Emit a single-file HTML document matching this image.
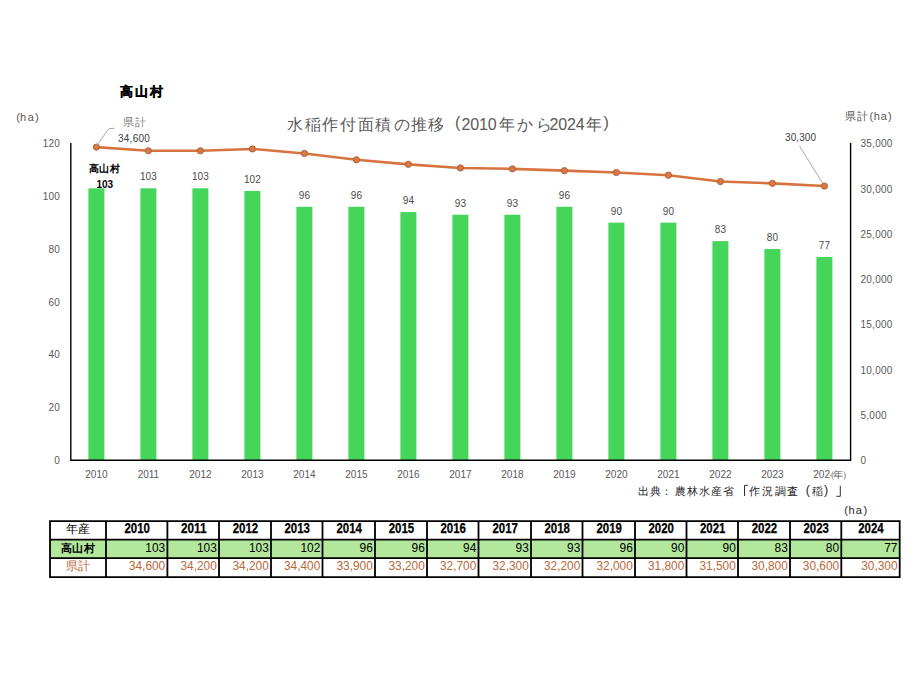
<!DOCTYPE html>
<html><head><meta charset="utf-8">
<style>
html,body{margin:0;padding:0;background:#fff;width:914px;height:686px;overflow:hidden}
svg{position:absolute;left:0;top:0;font-family:"Liberation Sans", sans-serif}
</style></head><body>
<svg width="914" height="686" viewBox="0 0 914 686">

<text x="120.2" y="95.8" font-size="13" font-weight="bold" fill="#000" stroke="#000" stroke-width="0.3" letter-spacing="1.9">高山村</text>
<text x="16.2 20.0 27.8 35.0" y="120.8" font-size="11" fill="#595959">(ha)</text>
<text y="130" font-size="16" fill="#595959"><tspan x="287.0 304.6 321.6 340.0 357.7 375.2 393.8 410.7 428.2">水稲作付面積の推移</tspan><tspan x="461.6" letter-spacing="-0.15">2010</tspan><tspan x="498.8 517.2 536.0">年から</tspan><tspan x="549.5" letter-spacing="-0.15">2024</tspan><tspan x="586.1">年</tspan></text>
<text y="128.2" font-size="16" fill="#595959"><tspan x="455">(</tspan><tspan x="603.5">)</tspan></text>
<text x="844.7 856.8 869.6 873.8 880.7 887.9" y="120" font-size="11" fill="#595959">県計(ha)</text>
<rect x="88.40" y="188.31" width="16" height="271.69" fill="#45d55b"/>
<rect x="140.40" y="188.31" width="16" height="271.69" fill="#45d55b"/>
<rect x="192.40" y="188.31" width="16" height="271.69" fill="#45d55b"/>
<rect x="244.40" y="190.95" width="16" height="269.05" fill="#45d55b"/>
<rect x="296.40" y="206.80" width="16" height="253.20" fill="#45d55b"/>
<rect x="348.40" y="206.80" width="16" height="253.20" fill="#45d55b"/>
<rect x="400.40" y="212.08" width="16" height="247.92" fill="#45d55b"/>
<rect x="452.40" y="214.72" width="16" height="245.28" fill="#45d55b"/>
<rect x="504.40" y="214.72" width="16" height="245.28" fill="#45d55b"/>
<rect x="556.40" y="206.80" width="16" height="253.20" fill="#45d55b"/>
<rect x="608.40" y="222.65" width="16" height="237.35" fill="#45d55b"/>
<rect x="660.40" y="222.65" width="16" height="237.35" fill="#45d55b"/>
<rect x="712.40" y="241.14" width="16" height="218.86" fill="#45d55b"/>
<rect x="764.40" y="249.07" width="16" height="210.93" fill="#45d55b"/>
<rect x="816.40" y="256.99" width="16" height="203.01" fill="#45d55b"/>
<path d="M70.8 143 V460.2 H850.6 V143" fill="none" stroke="#000" stroke-width="1.4"/>
<text x="60" y="464.00" font-size="10" fill="#595959" text-anchor="end" letter-spacing="0.2">0</text>
<text x="60" y="411.17" font-size="10" fill="#595959" text-anchor="end" letter-spacing="0.2">20</text>
<text x="60" y="358.33" font-size="10" fill="#595959" text-anchor="end" letter-spacing="0.2">40</text>
<text x="60" y="305.50" font-size="10" fill="#595959" text-anchor="end" letter-spacing="0.2">60</text>
<text x="60" y="252.67" font-size="10" fill="#595959" text-anchor="end" letter-spacing="0.2">80</text>
<text x="60" y="199.83" font-size="10" fill="#595959" text-anchor="end" letter-spacing="0.2">100</text>
<text x="60" y="147.00" font-size="10" fill="#595959" text-anchor="end" letter-spacing="0.2">120</text>
<text x="860.5" y="464.30" font-size="10" fill="#595959" letter-spacing="0.25">0</text>
<text x="860.5" y="419.01" font-size="10" fill="#595959" letter-spacing="0.25">5,000</text>
<text x="860.5" y="373.73" font-size="10" fill="#595959" letter-spacing="0.25">10,000</text>
<text x="860.5" y="328.44" font-size="10" fill="#595959" letter-spacing="0.25">15,000</text>
<text x="860.5" y="283.16" font-size="10" fill="#595959" letter-spacing="0.25">20,000</text>
<text x="860.5" y="237.87" font-size="10" fill="#595959" letter-spacing="0.25">25,000</text>
<text x="860.5" y="192.59" font-size="10" fill="#595959" letter-spacing="0.25">30,000</text>
<text x="860.5" y="147.30" font-size="10" fill="#595959" letter-spacing="0.25">35,000</text>
<text x="96.40" y="478" font-size="10" fill="#595959" text-anchor="middle">2010</text>
<text x="148.40" y="478" font-size="10" fill="#595959" text-anchor="middle">2011</text>
<text x="200.40" y="478" font-size="10" fill="#595959" text-anchor="middle">2012</text>
<text x="252.40" y="478" font-size="10" fill="#595959" text-anchor="middle">2013</text>
<text x="304.40" y="478" font-size="10" fill="#595959" text-anchor="middle">2014</text>
<text x="356.40" y="478" font-size="10" fill="#595959" text-anchor="middle">2015</text>
<text x="408.40" y="478" font-size="10" fill="#595959" text-anchor="middle">2016</text>
<text x="460.40" y="478" font-size="10" fill="#595959" text-anchor="middle">2017</text>
<text x="512.40" y="478" font-size="10" fill="#595959" text-anchor="middle">2018</text>
<text x="564.40" y="478" font-size="10" fill="#595959" text-anchor="middle">2019</text>
<text x="616.40" y="478" font-size="10" fill="#595959" text-anchor="middle">2020</text>
<text x="668.40" y="478" font-size="10" fill="#595959" text-anchor="middle">2021</text>
<text x="720.40" y="478" font-size="10" fill="#595959" text-anchor="middle">2022</text>
<text x="772.40" y="478" font-size="10" fill="#595959" text-anchor="middle">2023</text>
<text x="824.40" y="478" font-size="10" fill="#595959" text-anchor="middle">2024</text>
<rect x="830.8" y="465" width="18.6" height="16" fill="#fff"/>
<text y="477.8" font-size="10" fill="#595959"><tspan x="824.5">（</tspan><tspan x="833.2" font-size="9.6">年</tspan><tspan x="842.4">）</tspan></text>
<text x="148.40" y="180.31" font-size="10" fill="#4a4a4a" text-anchor="middle">103</text>
<text x="200.40" y="180.31" font-size="10" fill="#4a4a4a" text-anchor="middle">103</text>
<text x="252.40" y="182.95" font-size="10" fill="#4a4a4a" text-anchor="middle">102</text>
<text x="304.40" y="198.80" font-size="10" fill="#4a4a4a" text-anchor="middle">96</text>
<text x="356.40" y="198.80" font-size="10" fill="#4a4a4a" text-anchor="middle">96</text>
<text x="408.40" y="204.08" font-size="10" fill="#4a4a4a" text-anchor="middle">94</text>
<text x="460.40" y="206.72" font-size="10" fill="#4a4a4a" text-anchor="middle">93</text>
<text x="512.40" y="206.72" font-size="10" fill="#4a4a4a" text-anchor="middle">93</text>
<text x="564.40" y="198.80" font-size="10" fill="#4a4a4a" text-anchor="middle">96</text>
<text x="616.40" y="214.65" font-size="10" fill="#4a4a4a" text-anchor="middle">90</text>
<text x="668.40" y="214.65" font-size="10" fill="#4a4a4a" text-anchor="middle">90</text>
<text x="720.40" y="233.14" font-size="10" fill="#4a4a4a" text-anchor="middle">83</text>
<text x="772.40" y="241.07" font-size="10" fill="#4a4a4a" text-anchor="middle">80</text>
<text x="824.40" y="248.99" font-size="10" fill="#4a4a4a" text-anchor="middle">77</text>
<text x="88.6" y="172.3" font-size="10" font-weight="bold" fill="#000" letter-spacing="0.5">高山村</text>
<text x="96.5" y="187.5" font-size="10" font-weight="bold" fill="#000">103</text>
<polyline points="96.40,147.12 148.40,150.75 200.40,150.75 252.40,148.93 304.40,153.46 356.40,159.80 408.40,164.33 460.40,167.95 512.40,168.86 564.40,170.67 616.40,172.48 668.40,175.20 720.40,181.54 772.40,183.35 824.40,186.07" fill="none" stroke="#d6733f" stroke-width="2.6" stroke-linejoin="round"/>
<circle cx="96.40" cy="147.12" r="3.1" fill="#dc7843" stroke="#a85a35" stroke-width="0.9"/>
<circle cx="148.40" cy="150.75" r="3.1" fill="#dc7843" stroke="#a85a35" stroke-width="0.9"/>
<circle cx="200.40" cy="150.75" r="3.1" fill="#dc7843" stroke="#a85a35" stroke-width="0.9"/>
<circle cx="252.40" cy="148.93" r="3.1" fill="#dc7843" stroke="#a85a35" stroke-width="0.9"/>
<circle cx="304.40" cy="153.46" r="3.1" fill="#dc7843" stroke="#a85a35" stroke-width="0.9"/>
<circle cx="356.40" cy="159.80" r="3.1" fill="#dc7843" stroke="#a85a35" stroke-width="0.9"/>
<circle cx="408.40" cy="164.33" r="3.1" fill="#dc7843" stroke="#a85a35" stroke-width="0.9"/>
<circle cx="460.40" cy="167.95" r="3.1" fill="#dc7843" stroke="#a85a35" stroke-width="0.9"/>
<circle cx="512.40" cy="168.86" r="3.1" fill="#dc7843" stroke="#a85a35" stroke-width="0.9"/>
<circle cx="564.40" cy="170.67" r="3.1" fill="#dc7843" stroke="#a85a35" stroke-width="0.9"/>
<circle cx="616.40" cy="172.48" r="3.1" fill="#dc7843" stroke="#a85a35" stroke-width="0.9"/>
<circle cx="668.40" cy="175.20" r="3.1" fill="#dc7843" stroke="#a85a35" stroke-width="0.9"/>
<circle cx="720.40" cy="181.54" r="3.1" fill="#dc7843" stroke="#a85a35" stroke-width="0.9"/>
<circle cx="772.40" cy="183.35" r="3.1" fill="#dc7843" stroke="#a85a35" stroke-width="0.9"/>
<circle cx="824.40" cy="186.07" r="3.1" fill="#dc7843" stroke="#a85a35" stroke-width="0.9"/>
<path d="M96.2 146 L109 128.6 L114.7 128.3" fill="none" stroke="#a0a0a0" stroke-width="0.9"/>
<path d="M799.5 146 L822.5 183" fill="none" stroke="#a0a0a0" stroke-width="0.9"/>
<text x="123" y="126" font-size="11" fill="#7f7f7f" letter-spacing="0.8">県計</text>
<text x="118" y="142" font-size="10" fill="#404040" letter-spacing="0.25">34,600</text>
<text x="785" y="141.2" font-size="10" fill="#404040" letter-spacing="0.1">30,300</text>
<text x="637.8 649.9 661.0 674.5 686.6 698.6 710.6 722.7 748.9 762.0 775.1 786.6 812.3" y="494.6" font-size="11.3" fill="#262626">出典：農林水産省作況調査稲</text>
<text y="494.4" font-size="12.5" fill="#262626"><tspan x="805.8">(</tspan><tspan x="824.1">)</tspan></text>
<path d="M744.5 496 V485.4 H747.9 M840.3 485.8 V496.3 H836.3" fill="none" stroke="#262626" stroke-width="0.95"/>
<text x="844.3 848.4 855.8 863.6" y="514.2" font-size="11" fill="#262626">(ha)</text>
<rect x="50" y="539.7" width="849.7" height="18.5" fill="#b2e79c"/>
<path d="M50 520.2 V578.0 M106 520.2 V578.0 M167.4 520.2 V578.0 M219 520.2 V578.0 M271 520.2 V578.0 M322.5 520.2 V578.0 M375 520.2 V578.0 M427 520.2 V578.0 M478.5 520.2 V578.0 M531 520.2 V578.0 M582.5 520.2 V578.0 M635 520.2 V578.0 M686.5 520.2 V578.0 M738 520.2 V578.0 M790 520.2 V578.0 M841.3 520.2 V578.0 M899.7 520.2 V578.0 M49.1 521.1 H900.6 M49.1 539.7 H900.6 M49.1 558.2 H900.6 M49.1 577.1 H900.6 " stroke="#000" stroke-width="1.8" fill="none"/>
<text x="78.0" y="533" font-size="11.5" fill="#000" text-anchor="middle" letter-spacing="0.3">年産</text>
<text x="78.0" y="551.6" font-size="11" font-weight="bold" fill="#000" text-anchor="middle" letter-spacing="0.6">高山村</text>
<text x="78.0" y="570.2" font-size="11.5" fill="#b8673a" text-anchor="middle" letter-spacing="0.3">県計</text>
<text x="137.20" y="532.8" font-size="13.8" font-weight="bold" fill="#000" stroke="#000" stroke-width="0.25" text-anchor="middle" textLength="25.5" lengthAdjust="spacingAndGlyphs">2010</text>
<text x="145.34" y="551.6" font-size="12.8" fill="#000" textLength="19.86" lengthAdjust="spacingAndGlyphs">103</text>
<text x="128.89" y="570.2" font-size="12.5" fill="#b8673a" textLength="36.31" lengthAdjust="spacingAndGlyphs">34,600</text>
<text x="193.70" y="532.8" font-size="13.8" font-weight="bold" fill="#000" stroke="#000" stroke-width="0.25" text-anchor="middle" textLength="25.5" lengthAdjust="spacingAndGlyphs">2011</text>
<text x="196.94" y="551.6" font-size="12.8" fill="#000" textLength="19.86" lengthAdjust="spacingAndGlyphs">103</text>
<text x="180.49" y="570.2" font-size="12.5" fill="#b8673a" textLength="36.31" lengthAdjust="spacingAndGlyphs">34,200</text>
<text x="245.50" y="532.8" font-size="13.8" font-weight="bold" fill="#000" stroke="#000" stroke-width="0.25" text-anchor="middle" textLength="25.5" lengthAdjust="spacingAndGlyphs">2012</text>
<text x="248.94" y="551.6" font-size="12.8" fill="#000" textLength="19.86" lengthAdjust="spacingAndGlyphs">103</text>
<text x="232.49" y="570.2" font-size="12.5" fill="#b8673a" textLength="36.31" lengthAdjust="spacingAndGlyphs">34,200</text>
<text x="297.25" y="532.8" font-size="13.8" font-weight="bold" fill="#000" stroke="#000" stroke-width="0.25" text-anchor="middle" textLength="25.5" lengthAdjust="spacingAndGlyphs">2013</text>
<text x="300.44" y="551.6" font-size="12.8" fill="#000" textLength="19.86" lengthAdjust="spacingAndGlyphs">102</text>
<text x="283.99" y="570.2" font-size="12.5" fill="#b8673a" textLength="36.31" lengthAdjust="spacingAndGlyphs">34,400</text>
<text x="349.25" y="532.8" font-size="13.8" font-weight="bold" fill="#000" stroke="#000" stroke-width="0.25" text-anchor="middle" textLength="25.5" lengthAdjust="spacingAndGlyphs">2014</text>
<text x="359.56" y="551.6" font-size="12.8" fill="#000" textLength="13.24" lengthAdjust="spacingAndGlyphs">96</text>
<text x="336.49" y="570.2" font-size="12.5" fill="#b8673a" textLength="36.31" lengthAdjust="spacingAndGlyphs">33,900</text>
<text x="401.50" y="532.8" font-size="13.8" font-weight="bold" fill="#000" stroke="#000" stroke-width="0.25" text-anchor="middle" textLength="25.5" lengthAdjust="spacingAndGlyphs">2015</text>
<text x="411.56" y="551.6" font-size="12.8" fill="#000" textLength="13.24" lengthAdjust="spacingAndGlyphs">96</text>
<text x="388.49" y="570.2" font-size="12.5" fill="#b8673a" textLength="36.31" lengthAdjust="spacingAndGlyphs">33,200</text>
<text x="453.25" y="532.8" font-size="13.8" font-weight="bold" fill="#000" stroke="#000" stroke-width="0.25" text-anchor="middle" textLength="25.5" lengthAdjust="spacingAndGlyphs">2016</text>
<text x="463.06" y="551.6" font-size="12.8" fill="#000" textLength="13.24" lengthAdjust="spacingAndGlyphs">94</text>
<text x="439.99" y="570.2" font-size="12.5" fill="#b8673a" textLength="36.31" lengthAdjust="spacingAndGlyphs">32,700</text>
<text x="505.25" y="532.8" font-size="13.8" font-weight="bold" fill="#000" stroke="#000" stroke-width="0.25" text-anchor="middle" textLength="25.5" lengthAdjust="spacingAndGlyphs">2017</text>
<text x="515.56" y="551.6" font-size="12.8" fill="#000" textLength="13.24" lengthAdjust="spacingAndGlyphs">93</text>
<text x="492.49" y="570.2" font-size="12.5" fill="#b8673a" textLength="36.31" lengthAdjust="spacingAndGlyphs">32,300</text>
<text x="557.25" y="532.8" font-size="13.8" font-weight="bold" fill="#000" stroke="#000" stroke-width="0.25" text-anchor="middle" textLength="25.5" lengthAdjust="spacingAndGlyphs">2018</text>
<text x="567.06" y="551.6" font-size="12.8" fill="#000" textLength="13.24" lengthAdjust="spacingAndGlyphs">93</text>
<text x="543.99" y="570.2" font-size="12.5" fill="#b8673a" textLength="36.31" lengthAdjust="spacingAndGlyphs">32,200</text>
<text x="609.25" y="532.8" font-size="13.8" font-weight="bold" fill="#000" stroke="#000" stroke-width="0.25" text-anchor="middle" textLength="25.5" lengthAdjust="spacingAndGlyphs">2019</text>
<text x="619.56" y="551.6" font-size="12.8" fill="#000" textLength="13.24" lengthAdjust="spacingAndGlyphs">96</text>
<text x="596.49" y="570.2" font-size="12.5" fill="#b8673a" textLength="36.31" lengthAdjust="spacingAndGlyphs">32,000</text>
<text x="661.25" y="532.8" font-size="13.8" font-weight="bold" fill="#000" stroke="#000" stroke-width="0.25" text-anchor="middle" textLength="25.5" lengthAdjust="spacingAndGlyphs">2020</text>
<text x="671.06" y="551.6" font-size="12.8" fill="#000" textLength="13.24" lengthAdjust="spacingAndGlyphs">90</text>
<text x="647.99" y="570.2" font-size="12.5" fill="#b8673a" textLength="36.31" lengthAdjust="spacingAndGlyphs">31,800</text>
<text x="712.75" y="532.8" font-size="13.8" font-weight="bold" fill="#000" stroke="#000" stroke-width="0.25" text-anchor="middle" textLength="25.5" lengthAdjust="spacingAndGlyphs">2021</text>
<text x="722.56" y="551.6" font-size="12.8" fill="#000" textLength="13.24" lengthAdjust="spacingAndGlyphs">90</text>
<text x="699.49" y="570.2" font-size="12.5" fill="#b8673a" textLength="36.31" lengthAdjust="spacingAndGlyphs">31,500</text>
<text x="764.50" y="532.8" font-size="13.8" font-weight="bold" fill="#000" stroke="#000" stroke-width="0.25" text-anchor="middle" textLength="25.5" lengthAdjust="spacingAndGlyphs">2022</text>
<text x="774.56" y="551.6" font-size="12.8" fill="#000" textLength="13.24" lengthAdjust="spacingAndGlyphs">83</text>
<text x="751.49" y="570.2" font-size="12.5" fill="#b8673a" textLength="36.31" lengthAdjust="spacingAndGlyphs">30,800</text>
<text x="816.15" y="532.8" font-size="13.8" font-weight="bold" fill="#000" stroke="#000" stroke-width="0.25" text-anchor="middle" textLength="25.5" lengthAdjust="spacingAndGlyphs">2023</text>
<text x="825.86" y="551.6" font-size="12.8" fill="#000" textLength="13.24" lengthAdjust="spacingAndGlyphs">80</text>
<text x="802.79" y="570.2" font-size="12.5" fill="#b8673a" textLength="36.31" lengthAdjust="spacingAndGlyphs">30,600</text>
<text x="871.00" y="532.8" font-size="13.8" font-weight="bold" fill="#000" stroke="#000" stroke-width="0.25" text-anchor="middle" textLength="25.5" lengthAdjust="spacingAndGlyphs">2024</text>
<text x="884.26" y="551.6" font-size="12.8" fill="#000" textLength="13.24" lengthAdjust="spacingAndGlyphs">77</text>
<text x="861.19" y="570.2" font-size="12.5" fill="#b8673a" textLength="36.31" lengthAdjust="spacingAndGlyphs">30,300</text>
</svg></body></html>
